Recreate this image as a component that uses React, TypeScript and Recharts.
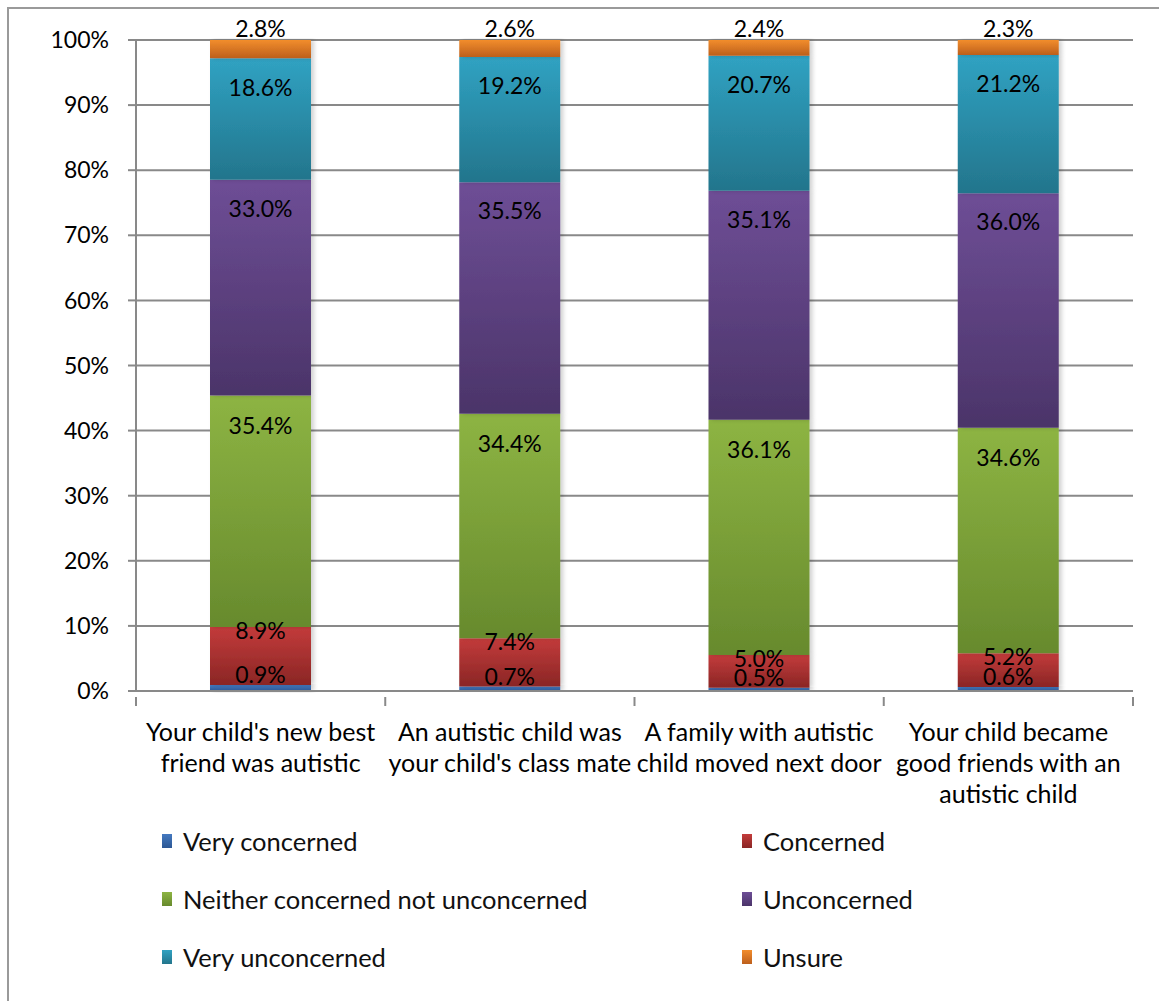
import {
  BarChart, Bar, XAxis, YAxis, CartesianGrid, LabelList,
} from 'recharts'

const CATEGORIES = [
  "Your child's new best friend was autistic",
  "An autistic child was your child's class mate",
  'A family with autistic child moved next door',
  'Your child became good friends with an autistic child',
]

// how each category name breaks under its bar
const CATEGORY_LINES = [
  ["Your child's new best", 'friend was autistic'],
  ['An autistic child was', "your child's class mate"],
  ['A family with autistic', 'child moved next door'],
  ['Your child became', 'good friends with an', 'autistic child'],
]

const VERY_CONCERNED = [0.9, 0.7, 0.5, 0.6]
const CONCERNED = [8.9, 7.4, 5.0, 5.2]
const NEITHER = [35.4, 34.4, 36.1, 34.6]
const UNCONCERNED = [33.0, 35.5, 35.1, 36.0]
const VERY_UNCONCERNED = [18.6, 19.2, 20.7, 21.2]
const UNSURE = [2.8, 2.6, 2.4, 2.3]

const Y_TICKS = [0, 0.1, 0.2, 0.3, 0.4, 0.5, 0.6, 0.7, 0.8, 0.9, 1]

const W = 1159
const H = 1001
const MARGIN = { top: 40, right: 26, bottom: 0, left: 0 }
const Y_AXIS_W = 136
const X_AXIS_H = 310
const BAND = (W - MARGIN.left - MARGIN.right - Y_AXIS_W) / CATEGORIES.length
const GRID = '#898989'
const FONT = 'Lato, "Open Sans", sans-serif'

// labelDy: where the value label sits relative to the top of its segment
const SERIES = [
  { key: 'veryConcerned', name: 'Very concerned', values: VERY_CONCERNED, top: '#4479C0', bottom: '#2C5794', labelDy: -10 },
  { key: 'concerned', name: 'Concerned', values: CONCERNED, top: '#C33B3B', bottom: '#8A2625', labelDy: 4 },
  { key: 'neither', name: 'Neither concerned not unconcerned', values: NEITHER, top: '#8DB443', bottom: '#678A2D', labelDy: 30 },
  { key: 'unconcerned', name: 'Unconcerned', values: UNCONCERNED, top: '#6E4E96', bottom: '#4B3469', labelDy: 29 },
  { key: 'veryUnconcerned', name: 'Very unconcerned', values: VERY_UNCONCERNED, top: '#30A2C2', bottom: '#23758C', labelDy: 29 },
  { key: 'unsure', name: 'Unsure', values: UNSURE, top: '#F28D2C', bottom: '#BD5F1C', labelDy: -11 },
]

const rows = CATEGORIES.map((name, i) => {
  const row: Record<string, string | number> = { name }
  SERIES.forEach((s) => { row[s.key] = s.values[i] })
  return row
})

const pct = (v: number) => `${Math.round(v * 100)}%`

interface TickProps { x?: number; y?: number; index?: number; payload?: { value: string; index?: number } }

function CategoryTick({ x = 0, y = 0, index = 0 }: TickProps) {
  const lines = CATEGORY_LINES[index] ?? []
  const left = x - BAND / 2
  const right = x + BAND / 2
  return (
    <g>
      <line x1={left} x2={left} y1={y} y2={y + 9} stroke={GRID} strokeWidth={2} />
      {index === CATEGORIES.length - 1 && (
        <line x1={right} x2={right} y1={y} y2={y + 9} stroke={GRID} strokeWidth={2} />
      )}
      <text x={x} y={y} textAnchor="middle" fill="#000" fontSize={25} fontFamily={FONT}>
        {lines.map((l, i) => (
          <tspan key={i} x={x} dy={i === 0 ? 44 : 31}>{l}</tspan>
        ))}
      </text>
    </g>
  )
}

function makeLabel(dy: number) {
  return function ValueLabel(props: any) {
    const { x, y, width, value } = props
    if (value == null) return null
    return (
      <text
        x={Number(x) + Number(width) / 2}
        y={Number(y) + dy}
        dy="0.36em"
        textAnchor="middle"
        fill="#000"
        fontSize={23}
        fontFamily={FONT}
      >
        {Number(value).toFixed(1)}%
      </text>
    )
  }
}

function Gradients() {
  return (
    <defs>
      {SERIES.map((s) => (
        <linearGradient key={s.key} id={`grad-${s.key}`} x1="0" y1="0" x2="0" y2="1">
          <stop offset="0%" stopColor={s.top} />
          <stop offset="100%" stopColor={s.bottom} />
        </linearGradient>
      ))}
      <filter id="bar-shadow" x="-10%" y="-10%" width="130%" height="130%">
        <feDropShadow dx={3} dy={0} stdDeviation={2} floodColor="#000" floodOpacity={0.18} />
      </filter>
    </defs>
  )
}

// labels go in a second, identical chart on top so later segments never cover them
function StackChart({ labels }: { labels: boolean }) {
  return (
    <BarChart
      width={W}
      height={H}
      data={rows}
      stackOffset="expand"
      margin={MARGIN}
      barSize={101}
    >
      <Gradients />
      {!labels && <CartesianGrid vertical={false} stroke={GRID} strokeWidth={2} />}
      <XAxis
        dataKey="name"
        height={X_AXIS_H}
        interval={0}
        tickLine={false}
        axisLine={labels ? false : { stroke: GRID, strokeWidth: 2 }}
        tick={labels ? false : <CategoryTick />}
        tickMargin={0}
      />
      <YAxis
        width={Y_AXIS_W}
        domain={[0, 1]}
        ticks={Y_TICKS}
        tickFormatter={pct}
        interval={0}
        tickSize={8}
        tickMargin={19}
        tickLine={labels ? false : { stroke: GRID, strokeWidth: 2 }}
        axisLine={labels ? false : { stroke: GRID, strokeWidth: 2 }}
        tick={labels ? false : { fill: '#000', fontSize: 23, fontFamily: FONT }}
      />
      {SERIES.map((s) => (
        <Bar
          key={s.key}
          dataKey={s.key}
          name={s.name}
          stackId="a"
          fill={labels ? 'none' : `url(#grad-${s.key})`}
          filter={labels ? undefined : 'url(#bar-shadow)'}
          isAnimationActive={false}
        >
          {labels && <LabelList dataKey={s.key} content={makeLabel(s.labelDy)} />}
        </Bar>
      ))}
    </BarChart>
  )
}

const LEGEND_COLS = [162, 742]
const LEGEND_ROWS = [841, 899, 957]

function ChartLegend() {
  return (
    <>
      {SERIES.map((s, i) => (
        <div
          key={s.key}
          style={{
            position: 'absolute',
            left: LEGEND_COLS[i % 2],
            top: LEGEND_ROWS[Math.floor(i / 2)] - 15,
            height: 30,
            display: 'flex',
            alignItems: 'center',
            fontFamily: FONT,
            fontSize: 25.5,
            color: '#111',
            whiteSpace: 'nowrap',
          }}
        >
          <span
            style={{
              display: 'inline-block',
              width: 10,
              height: 14,
              marginRight: 11,
              background: `linear-gradient(${s.top}, ${s.bottom})`,
            }}
          />
          {s.name}
        </div>
      ))}
    </>
  )
}

export default function App() {
  return (
    <div style={{ position: 'absolute', left: 0, top: 0, width: W, height: H, background: '#fff', overflow: 'hidden' }}>
      <div
        style={{
          position: 'absolute',
          left: 7,
          top: 7,
          width: W + 20,
          height: H + 20,
          borderLeft: '2px solid #9a9a9a',
          borderTop: '2px solid #9a9a9a',
        }}
      />
      <div style={{ position: 'absolute', left: 0, top: 0 }}>
        <StackChart labels={false} />
      </div>
      <div style={{ position: 'absolute', left: 0, top: 0 }}>
        <StackChart labels />
      </div>
      <ChartLegend />
    </div>
  )
}
